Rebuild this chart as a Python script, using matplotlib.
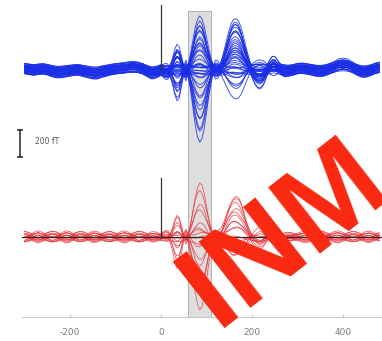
import numpy as np
import matplotlib.pyplot as plt

plt.rcParams['axes.unicode_minus'] = False

# time axis (ms): coarse before/after, finer around the response
t_pre = np.arange(-300, 0, 10)
t_resp = np.arange(0, 300, 5)
t_post = np.arange(300, 490, 10)
t_ms = np.concatenate([t_pre, t_resp, t_post])

# baseline wobble shared by the channels (fT)
blue_wobble = [10, 5, 0, 5, 8, 3, -8, -15, -15, -10, -5, 0, 0, -8, -15,
               -22, -22, -12, -5, 3, 8, 12, 15, 20, 22, 18, 8, -8, -22, -15,
               0, -5, -10, -12, -8, -2, 3, 5, 3, 0,
               -3, -5, -3, 0, 2, 3, 2, 0, -2, -3,
               -2, 0, 2, 3, 2, 0, -2, -3, -2, 0,
               2, 3, 2, 0, -2, -3, -2, 0, 2, 3,
               2, 0, -2, -3, -2, 0, 3, 6, 8, 10,
               10, 8, 5, 2, 0, -3, -5, -3, 0, 5,
               10, 12, 8, 2, -5, -8, -3, 8, 20, 35, 40, 35, 20, 3, -10, -12, -3, 10, 18]
red_wobble = [20, 10, -10, -20, -10, 10, 20, 15, -5, -20, -15, 5, 18, 15, -3,
              -18, -15, 2, 15, 18, 5, -12, -20, -10, 8, 20, 15, 0, -15, -12,
              0, 8, 12, 10, 5, 0, -5, -8, -5, 0,
              5, 8, 5, 0, -5, -8, -5, 0, 5, 8,
              5, 0, -5, -8, -5, 0, 5, 8, 5, 0,
              -5, -8, -5, 0, 5, 8, 5, 0, -5, -8,
              -5, 0, 5, 10, 12, 10, 5, 0, -5, -10,
              -12, -10, -5, 0, 5, 10, 12, 10, 5, 0,
              -5, -15, -18, -8, 8, 18, 15, 0, -15, -20, -10, 8, 18, 15, 0, -15, -18, -5, 10]

# evoked components on the 0-295 ms grid (normalised)
main_wave = [0, -0.03, -0.06, -0.05, 0.03, 0.15, 0.32, 0.42, 0.38, 0.2,
             0.0, -0.1, 0.05, 0.25, 0.5, 0.75, 0.92, 1.0, 0.95, 0.8,
             0.58, 0.35, 0.15, 0.0, -0.08, -0.08, -0.04, 0.0] + [0] * 32
late_wave = [0] * 24 + [0.0, 0.02, 0.08, 0.2, 0.38, 0.58, 0.76, 0.9, 0.98, 1.0,
                        0.96, 0.85, 0.68, 0.48, 0.28, 0.1, -0.05, -0.15, -0.22, -0.26,
                        -0.25, -0.2, -0.1, 0.02, 0.12, 0.18, 0.18, 0.12, 0.05, 0.0,
                        -0.03, -0.03, 0.0, 0.0, 0.0, 0.0]

# per-channel amplitudes (fT)
blue_a = [400, 370, 340, 310, 290, 270, 250, 230, 210, 190, 170, 150, 130, 110, 90, 70, 50, 30,
          -520, -470, -420, -380, -340, -300, -260, -220, -180, -140, -100, -70, -40, -20,
          10, -5, 0, 15, -10, 5, 20, -15]
blue_b = [390, 350, 300, 260, 330, 220, 280, 180, 240, 150, 200, 120, 160, 90, 130, 60, 100, 40,
          -200, -170, 370, -140, 310, -110, 250, -80, 190, 140, -50, 100, 60, -20,
          20, -30, 80, 30, -60, 50, 10, -10]
blue_off = [-36, 30, -12, 18, 6, -24, 36, 0, -30, 12, 24, -6, -18, 40, -40, 10, -10, 14,
            -14, 33, -33, 21, -21, 4, -4, 26, -26, 7, -7, 17, -17, 38, -38, 0, 19, -19, 28, -28, 11, -11]
blue_wg = [1.0, 0.8, 1.2, 0.9, 1.1, 0.7, 1.3, 1.0, 0.6, 1.4, 0.9, 1.1, 1.0, 0.8, 1.2, 0.7, 1.3, 1.0,
           0.9, 1.1, 1.0, 0.8, 1.2, 0.6, 1.4, 1.0, 0.9, 1.1, 0.7, 1.3, 1.0, 0.8, 1.2, 1.0, 0.9, 1.1,
           0.6, 1.4, 1.0, 0.8]

red_a = [420, 330, 250, 180, 120, 60, 20, -30, -90, -160, -240, -330, -420, -520, 0, 40]
red_b = [320, 240, -120, 160, 90, -60, 200, 30, -150, 120, 260, -90, 60, 180, -40, 100]
red_off = [-20, 15, -8, 22, -15, 5, 10, -25, 18, -5, 25, -12, 8, -18, 0, 12]
red_wg = [1.2, -0.8, 1.5, -1.2, 0.6, -1.5, 1.0, -0.5, 1.3, -1.0, 0.8, -1.3, 0.5, -0.7, 1.1, -0.9]

red_base = -1236
win = (60, 110)
ticks = [-200, 0, 200, 400]

pad_pre = np.zeros(len(t_pre))
pad_post = np.zeros(len(t_post))
A = np.concatenate([pad_pre, main_wave, pad_post])
B = np.concatenate([pad_pre, late_wave, pad_post])
wb = np.array(blue_wobble)
wr = np.array(red_wobble)

fig = plt.figure(figsize=(3.82, 3.41), dpi=100)
ax = fig.add_axes([0, 24 / 341, 1, 317 / 341])
ax.set_xlim(-354, 486)
ax.set_ylim(-1828, 518)

ax.fill_betweenx([-1828, 440], win[0], win[1], color='#dedede', ec='#a8a8a8', lw=0.6, zorder=0)

for a, b, o, g in zip(blue_a, blue_b, blue_off, blue_wg):
    ax.plot(t_ms, o + g * wb + a * A + b * B, color='#1a2ee6', lw=0.65, alpha=0.85, zorder=2)

for a, b, o, g in zip(red_a, red_b, red_off, red_wg):
    ax.plot(t_ms, red_base + o + g * wr + a * A + b * B, color='#e8343c', lw=0.55, alpha=0.85, zorder=2)

ax.plot([-305, 486], [red_base, red_base], color='#3a2525', lw=0.9, zorder=3)
ax.plot([0, 0], [0, 480], color='#333333', lw=0.9, zorder=3)
ax.plot([0, 0], [red_base, red_base + 440], color='#333333', lw=0.9, zorder=3)

# scale bar
ax.plot([-310, -310], [-444, -644], color='#333333', lw=1.2, marker='_', ms=4, mew=1.2)
ax.text(-277, -530, '200 fT', fontsize=5.5, color='#555555', va='center', ha='left')

for s in ['left', 'top', 'right']:
    ax.spines[s].set_visible(False)
ax.spines['bottom'].set_color('#c8c8c8')
ax.spines['bottom'].set_bounds(-305, 486)
ax.set_yticks([])
ax.set_xticks(ticks)
ax.tick_params(axis='x', direction='in', length=2, color='#c8c8c8',
               labelsize=6.5, labelcolor='#7a7a7a', pad=8)

# watermark, cut by the right edge as in the original
fig.text(0.567, 0.037, 'INM', fontsize=88, fontweight='bold', family='Liberation Sans',
         color='#fa2810', rotation=38, rotation_mode='anchor', ha='left', va='baseline', zorder=10)

fig.savefig('out.png', dpi=100)
